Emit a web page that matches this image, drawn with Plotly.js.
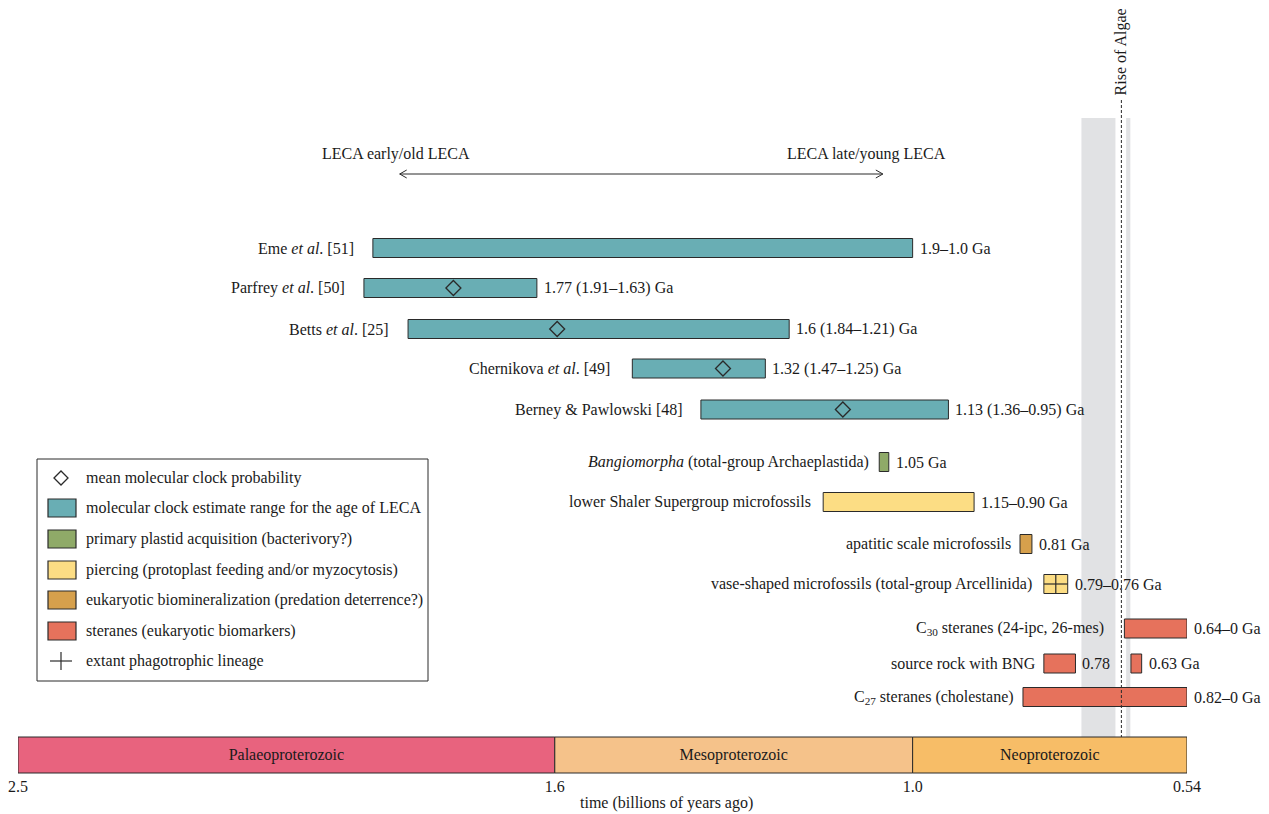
<!DOCTYPE html>
<html>
<head>
<meta charset="utf-8">
<script src="https://cdn.plot.ly/plotly-3.0.1.min.js"></script>
<style>html,body{margin:0;padding:0;background:#fff;}#chart{width:1269px;height:814px;}</style>
</head>
<body>
<div id="chart"></div>
<script>
// ---------- DATA ----------
const clockLabels = ['Eme <i>et al</i>. [51]', 'Parfrey <i>et al</i>. [50]', 'Betts <i>et al</i>. [25]', 'Chernikova <i>et al</i>. [49]', 'Berney &amp; Pawlowski [48]'];
const clockOld = [1.905, 1.92, 1.846, 1.47, 1.355];
const clockYoung = [1.0, 1.63, 1.207, 1.247, 0.94];
const clockMean = [null, 1.77, 1.596, 1.318, 1.117];
const clockText = ['1.9–1.0 Ga', '1.77 (1.91–1.63) Ga', '1.6 (1.84–1.21) Ga', '1.32 (1.47–1.25) Ga', '1.13 (1.36–0.95) Ga'];

const fossilLabels = ['<i>Bangiomorpha</i> (total-group Archaeplastida)', 'lower Shaler Supergroup microfossils', 'apatitic scale microfossils', 'vase-shaped microfossils (total-group Arcellinida)'];
const fossilOld = [1.056, 1.15, 0.82, 0.78];
const fossilYoung = [1.04, 0.897, 0.80, 0.74];
const fossilText = ['1.05 Ga', '1.15–0.90 Ga', '0.81 Ga', '0.79–0.76 Ga'];
const fossilKind = ['plastid', 'piercing', 'biomin', 'piercing'];

const steraneLabels = ['C<sub>30</sub> steranes (24-ipc, 26-mes)', 'source rock with BNG', '', 'C<sub>27</sub> steranes (cholestane)'];
const steraneOld = [0.645, 0.78, 0.634, 0.815];
const steraneYoung = [0, 0.727, 0.616, 0];
const steraneText = ['0.64–0 Ga', '0.78', '0.63 Ga', '0.82–0 Ga'];

const periodNames = ['Palaeoproterozoic', 'Mesoproterozoic', 'Neoproterozoic'];
const periodStart = [2.5, 1.6, 1.0];
const periodEnd = [1.6, 1.0, 0.54];

const glaciations = [[0.717, 0.66], [0.642, 0.635]];
const riseOfAlgae = 0.65;
const lecaArrow = [1.86, 1.05];

const tickVals = [2.5, 1.6, 1.0, 0.54];
const tickText = ['2.5', '1.6', '1.0', '0.54'];

const legendLabels = ['mean molecular clock probability', 'molecular clock estimate range for the age of LECA', 'primary plastid acquisition (bacterivory?)', 'piercing (protoplast feeding and/or myzocytosis)', 'eukaryotic biomineralization (predation deterrence?)', 'steranes (eukaryotic biomarkers)', 'extant phagotrophic lineage'];

// ---------- LAYOUT CONSTANTS ----------
const W = 1269, H = 814, ML = 18, MR = 82, MT = 0, MB = 39;
const plotW = W - ML - MR, plotH = H - MT - MB;
const X_MIN = 0.54;
const clockRows = [248, 288, 329, 368.5, 409.5];
const fossilRows = [462, 502, 544, 584];
const steraneRows = [628.5, 663.5, 663.5, 697];
const clockGap = [17, 17, 17, 20, 16];
const fossilGap = [8, 10, 7, 10];
const steraneGap = [18, 6, 6, 7];
const periodRow = 755;
const BAR_H = 19;

const COL = {
  teal: '#69AEB4', plastid: '#8FAA68', piercing: '#FCDD84', biomin: '#D6A04C', sterane: '#E6725C',
  edge: '#2a2a2a', text: '#1a1a1a', band: '#E1E2E4'
};
const periodColors = ['#E8637E', '#F5C28A', '#F7BD67'];
const FONT = 'Liberation Serif, Times New Roman, serif';
const FS = 16;

const xp = px => (px - ML) / plotW;
const yp = py => (H - MB - py) / plotH;
const clampX = v => Math.max(v, X_MIN);

// ---------- TRACES ----------
const traces = [];
function barTrace(rows, olds, youngs, colors) {
  return {
    type: 'bar', orientation: 'h', y: rows,
    base: youngs.map(clampX),
    x: olds.map((o, i) => o - clampX(youngs[i])),
    width: rows.map(() => BAR_H),
    marker: { color: colors, line: { color: COL.edge, width: 1 } },
    hoverinfo: 'skip', showlegend: false, cliponaxis: false
  };
}
// periods
traces.push({
  type: 'bar', orientation: 'h', y: periodNames.map(() => periodRow),
  base: periodEnd, x: periodStart.map((s, i) => s - periodEnd[i]),
  width: periodNames.map(() => 36),
  marker: { color: periodColors, line: { color: COL.edge, width: 1 } },
  text: periodNames, textposition: 'inside', insidetextanchor: 'middle',
  textfont: { family: FONT, size: FS, color: COL.text }, constraintext: 'none',
  hoverinfo: 'skip', showlegend: false, cliponaxis: false
});
traces.push(barTrace(clockRows, clockOld, clockYoung, clockRows.map(() => COL.teal)));
traces.push(barTrace(fossilRows, fossilOld, fossilYoung, fossilKind.map(k => COL[k])));
traces.push(barTrace(steraneRows, steraneOld, steraneYoung, steraneRows.map(() => COL.sterane)));
// mean diamonds
const mIdx = clockMean.map((m, i) => m === null ? -1 : i).filter(i => i >= 0);
traces.push({
  type: 'scatter', mode: 'markers', x: mIdx.map(i => clockMean[i]), y: mIdx.map(i => clockRows[i]),
  marker: { symbol: 'diamond-open', size: 11.5, color: COL.edge, line: { width: 1.3, color: COL.edge } },
  hoverinfo: 'skip', showlegend: false, cliponaxis: false
});
// extant phagotrophic lineage cross on vase-shaped microfossils
const vi = 3, vy = fossilRows[vi], vm = (fossilOld[vi] + fossilYoung[vi]) / 2;
traces.push({
  type: 'scatter', mode: 'lines',
  x: [fossilOld[vi], fossilYoung[vi], null, vm, vm],
  y: [vy, vy, null, vy - BAR_H / 2, vy + BAR_H / 2],
  line: { color: COL.edge, width: 1.2 }, hoverinfo: 'skip', showlegend: false, cliponaxis: false
});
// LECA double arrow line
traces.push({
  type: 'scatter', mode: 'lines', x: lecaArrow, y: [174, 174],
  line: { color: COL.edge, width: 1 }, hoverinfo: 'skip', showlegend: false, cliponaxis: false
});

// ---------- SHAPES ----------
const shapes = [];
glaciations.forEach(g => shapes.push({
  type: 'rect', xref: 'x', yref: 'y', x0: g[0], x1: g[1], y0: 118, y1: 737,
  fillcolor: COL.band, line: { width: 0 }, layer: 'below'
}));
shapes.push({ type: 'line', xref: 'x', yref: 'y', x0: riseOfAlgae, x1: riseOfAlgae, y0: 100, y1: 737,
  line: { color: COL.edge, width: 1, dash: '3px,2px' }, layer: 'above' });
// arrow heads (open chevrons) at both ends of the LECA arrow
const lecaPx = lecaArrow.map(g => ML + (2.5 - g) / (2.5 - X_MIN) * plotW);
const headL = lecaPx[0], headR = lecaPx[1];
shapes.push({ type: 'path', xref: 'paper', yref: 'paper',
  path: `M${xp(headL + 7)},${yp(170)} L${xp(headL)},${yp(174)} L${xp(headL + 7)},${yp(178)}`,
  line: { color: COL.edge, width: 1 }, layer: 'above' });
shapes.push({ type: 'path', xref: 'paper', yref: 'paper',
  path: `M${xp(headR - 7)},${yp(170)} L${xp(headR)},${yp(174)} L${xp(headR - 7)},${yp(178)}`,
  line: { color: COL.edge, width: 1 }, layer: 'above' });

// legend box
shapes.push({ type: 'rect', xref: 'paper', yref: 'paper', x0: xp(37), x1: xp(428), y0: yp(459), y1: yp(681),
  line: { color: COL.edge, width: 1 }, fillcolor: 'rgba(255,255,255,1)', layer: 'above' });
const legRows = [478, 508, 539, 570, 600, 631, 661];
shapes.push({ type: 'path', xref: 'paper', yref: 'paper',
  path: `M${xp(54)},${yp(478)} L${xp(61)},${yp(471)} L${xp(68)},${yp(478)} L${xp(61)},${yp(485)} Z`,
  line: { color: COL.edge, width: 1.3 }, fillcolor: 'rgba(0,0,0,0)', layer: 'above' });
const legColors = [COL.teal, COL.plastid, COL.piercing, COL.biomin, COL.sterane];
legColors.forEach((c, i) => shapes.push({ type: 'rect', xref: 'paper', yref: 'paper',
  x0: xp(48), x1: xp(76), y0: yp(legRows[i + 1] - 9), y1: yp(legRows[i + 1] + 9),
  fillcolor: c, line: { color: COL.edge, width: 1.2 }, layer: 'above' }));
shapes.push({ type: 'line', xref: 'paper', yref: 'paper', x0: xp(50), x1: xp(72), y0: yp(661), y1: yp(661), line: { color: COL.edge, width: 1.2 }, layer: 'above' });
shapes.push({ type: 'line', xref: 'paper', yref: 'paper', x0: xp(61), x1: xp(61), y0: yp(652), y1: yp(670), line: { color: COL.edge, width: 1.2 }, layer: 'above' });

// ---------- ANNOTATIONS ----------
const ann = [];
const tf = { family: FONT, size: FS, color: COL.text };
function leftLab(text, x, y, gap) { if (text) ann.push({ text, x, y, xref: 'x', yref: 'y', xanchor: 'right', yanchor: 'middle', xshift: -gap, showarrow: false, font: tf }); }
function rightLab(text, x, y) { ann.push({ text, x: clampX(x), y, xref: 'x', yref: 'y', xanchor: 'left', yanchor: 'middle', xshift: 5, showarrow: false, font: tf }); }
clockRows.forEach((r, i) => { leftLab(clockLabels[i], clockOld[i], r, clockGap[i]); rightLab(clockText[i], clockYoung[i], r); });
fossilRows.forEach((r, i) => { leftLab(fossilLabels[i], fossilOld[i], r, fossilGap[i]); rightLab(fossilText[i], fossilYoung[i], r); });
steraneRows.forEach((r, i) => { leftLab(steraneLabels[i], steraneOld[i], r, steraneGap[i]); rightLab(steraneText[i], steraneYoung[i], r); });
legendLabels.forEach((t, i) => ann.push({ text: t, x: xp(84), y: yp(legRows[i]), xref: 'paper', yref: 'paper', xanchor: 'left', yanchor: 'middle', showarrow: false, font: tf }));
ann.push({ text: 'LECA early/old LECA', x: 1.866, y: 154, xref: 'x', yref: 'y', xanchor: 'center', yanchor: 'middle', showarrow: false, font: tf });
ann.push({ text: 'LECA late/young LECA', x: 1.078, y: 154, xref: 'x', yref: 'y', xanchor: 'center', yanchor: 'middle', showarrow: false, font: tf });
ann.push({ text: 'Rise of Algae', x: riseOfAlgae, y: 52, xref: 'x', yref: 'y', textangle: -90, xanchor: 'center', yanchor: 'middle', showarrow: false, font: tf });
ann.push({ text: 'time (billions of years ago)', x: xp(666), y: yp(803), xref: 'paper', yref: 'paper', xanchor: 'center', yanchor: 'middle', showarrow: false, font: tf });

const layout = {
  width: W, height: H, margin: { l: ML, r: MR, t: MT, b: MB, pad: 0 },
  paper_bgcolor: '#fff', plot_bgcolor: '#fff', showlegend: false,
  font: { family: FONT, size: FS, color: COL.text },
  barmode: 'overlay',
  xaxis: { range: [2.5, X_MIN], tickmode: 'array', tickvals: tickVals, ticktext: tickText, showgrid: false, zeroline: false, showline: false, ticks: '', tickfont: { family: FONT, size: FS, color: COL.text }, fixedrange: true },
  yaxis: { range: [H - MB, 0], visible: false, showgrid: false, zeroline: false, fixedrange: true },
  shapes, annotations: ann
};
Plotly.newPlot('chart', traces, layout, { displayModeBar: false, staticPlot: true });
</script>
</body>
</html>
